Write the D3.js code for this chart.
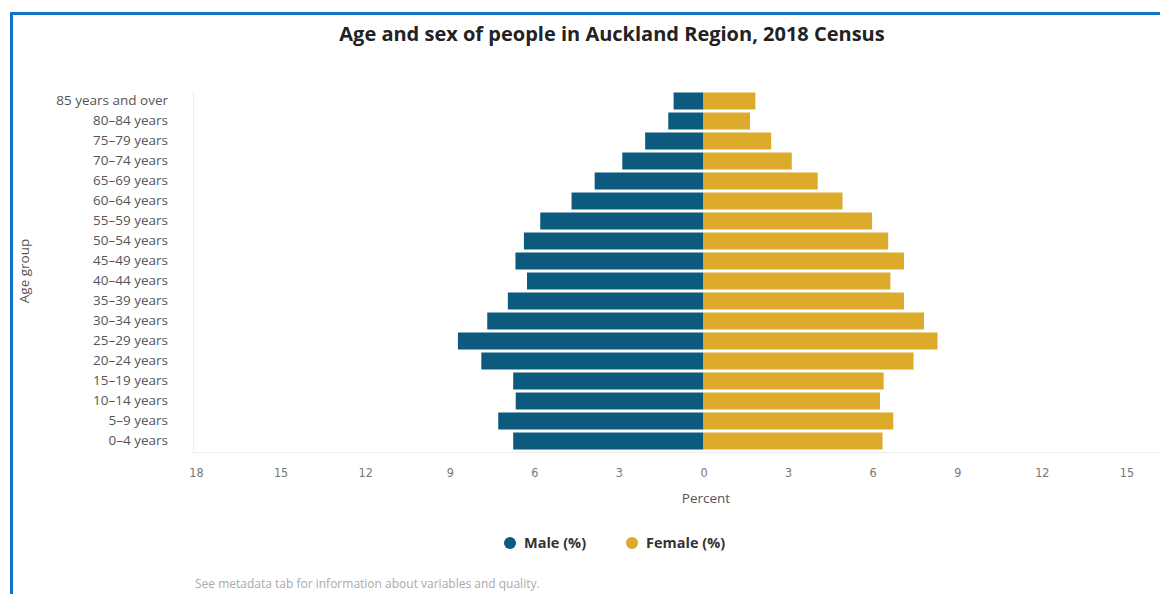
<!DOCTYPE html>
<html>
<head>
<meta charset="utf-8">
<script src="https://cdn.jsdelivr.net/npm/d3@7"></script>
<style>
  html, body { margin: 0; padding: 0; background: #fff; }
  svg { display: block; }
</style>
</head>
<body>
<svg id="chart" width="1160" height="594"></svg>
<script>
const ageGroups = ["85 years and over","80–84 years","75–79 years","70–74 years","65–69 years","60–64 years","55–59 years","50–54 years","45–49 years","40–44 years","35–39 years","30–34 years","25–29 years","20–24 years","15–19 years","10–14 years","5–9 years","0–4 years"];
const maleValues   = [1.06,1.25,2.07,2.88,3.86,4.68,5.79,6.37,6.67,6.26,6.94,7.67,8.71,7.88,6.75,6.66,7.28,6.75];
const femaleValues = [1.84,1.65,2.40,3.13,4.05,4.93,5.98,6.55,7.11,6.63,7.11,7.82,8.30,7.45,6.39,6.26,6.73,6.35];
const tickValues = [-18,-15,-12,-9,-6,-3,0,3,6,9,12,15];
const seriesNames = ["Male (%)","Female (%)"];
const colors = {male: "#0d5a7f", female: "#dcab2b"};
const font = "'Open Sans', sans-serif";
const tickFont = "'Liberation Sans Narrow', 'DejaVu Sans Condensed', sans-serif";

const svg = d3.select("#chart");

// frame
svg.append("line").attr("x1", 10).attr("x2", 1160).attr("y1", 13.5).attr("y2", 13.5)
  .attr("stroke", "#1173c7").attr("stroke-width", 3);
svg.append("line").attr("x1", 11.5).attr("x2", 11.5).attr("y1", 12).attr("y2", 594)
  .attr("stroke", "#1173c7").attr("stroke-width", 3);

// title
svg.append("text").attr("x", 612).attr("y", 41).attr("text-anchor", "middle")
  .attr("font-family", font).attr("font-weight", 700).attr("font-size", 20)
  .attr("fill", "#222").text("Age and sex of people in Auckland Region, 2018 Census");

const x = d3.scaleLinear().domain([-18, 18]).range([196, 1211]);
const y = d3.scaleBand().domain(ageGroups).range([91, 451]).paddingInner(0.15).paddingOuter(0.075);

// baseline
svg.append("line").attr("x1", 193).attr("x2", 1160).attr("y1", 452.5).attr("y2", 452.5)
  .attr("stroke", "#eeeeee").attr("stroke-width", 1);

// y axis
const yAxis = d3.axisLeft(y).tickSize(0).tickPadding(25);
const yg = svg.append("g").attr("transform", "translate(193,0)").call(yAxis);
yg.select(".domain").attr("stroke", "#ececec");
yg.selectAll("text").attr("font-family", font).attr("font-size", 13.5).attr("fill", "#555");

// bars
const rows = ageGroups.map((g, i) => ({g, m: maleValues[i], f: femaleValues[i]}));
svg.append("g").selectAll("rect").data(rows).join("rect")
  .attr("x", d => x(-d.m)).attr("width", d => x(0) - x(-d.m))
  .attr("y", d => y(d.g)).attr("height", y.bandwidth())
  .attr("fill", colors.male);
svg.append("g").selectAll("rect").data(rows).join("rect")
  .attr("x", x(0)).attr("width", d => x(d.f) - x(0))
  .attr("y", d => y(d.g)).attr("height", y.bandwidth())
  .attr("fill", colors.female);

// x axis
const xAxis = d3.axisBottom(x).tickValues(tickValues).tickSize(0).tickPadding(16)
  .tickFormat(d => Math.abs(d));
const xg = svg.append("g").attr("transform", "translate(0,452)").call(xAxis);
xg.select(".domain").remove();
xg.selectAll("text").attr("font-family", tickFont).attr("font-size", 12.5).attr("fill", "#777");

// axis titles
svg.append("text").attr("x", 706).attr("y", 503).attr("text-anchor", "middle")
  .attr("font-family", font).attr("font-size", 13.5).attr("fill", "#555").text("Percent");
svg.append("text").attr("transform", "translate(29,271) rotate(-90)").attr("text-anchor", "middle")
  .attr("font-family", font).attr("font-size", 13.5).attr("fill", "#555").text("Age group");

// legend
const legend = [
  {name: seriesNames[0], color: colors.male, cx: 510, tx: 524},
  {name: seriesNames[1], color: colors.female, cx: 632, tx: 646}
];
const lg = svg.append("g");
lg.selectAll("circle").data(legend).join("circle")
  .attr("cx", d => d.cx).attr("cy", 543).attr("r", 6).attr("fill", d => d.color);
lg.selectAll("text").data(legend).join("text")
  .attr("x", d => d.tx).attr("y", 548).attr("font-family", font).attr("font-weight", 700)
  .attr("font-size", 14.5).attr("fill", "#333").text(d => d.name);

// footer
svg.append("text").attr("x", 195).attr("y", 588).attr("font-family", font)
  .attr("font-size", 12).attr("fill", "#aaa")
  .text("See metadata tab for information about variables and quality.");
</script>
</body>
</html>
